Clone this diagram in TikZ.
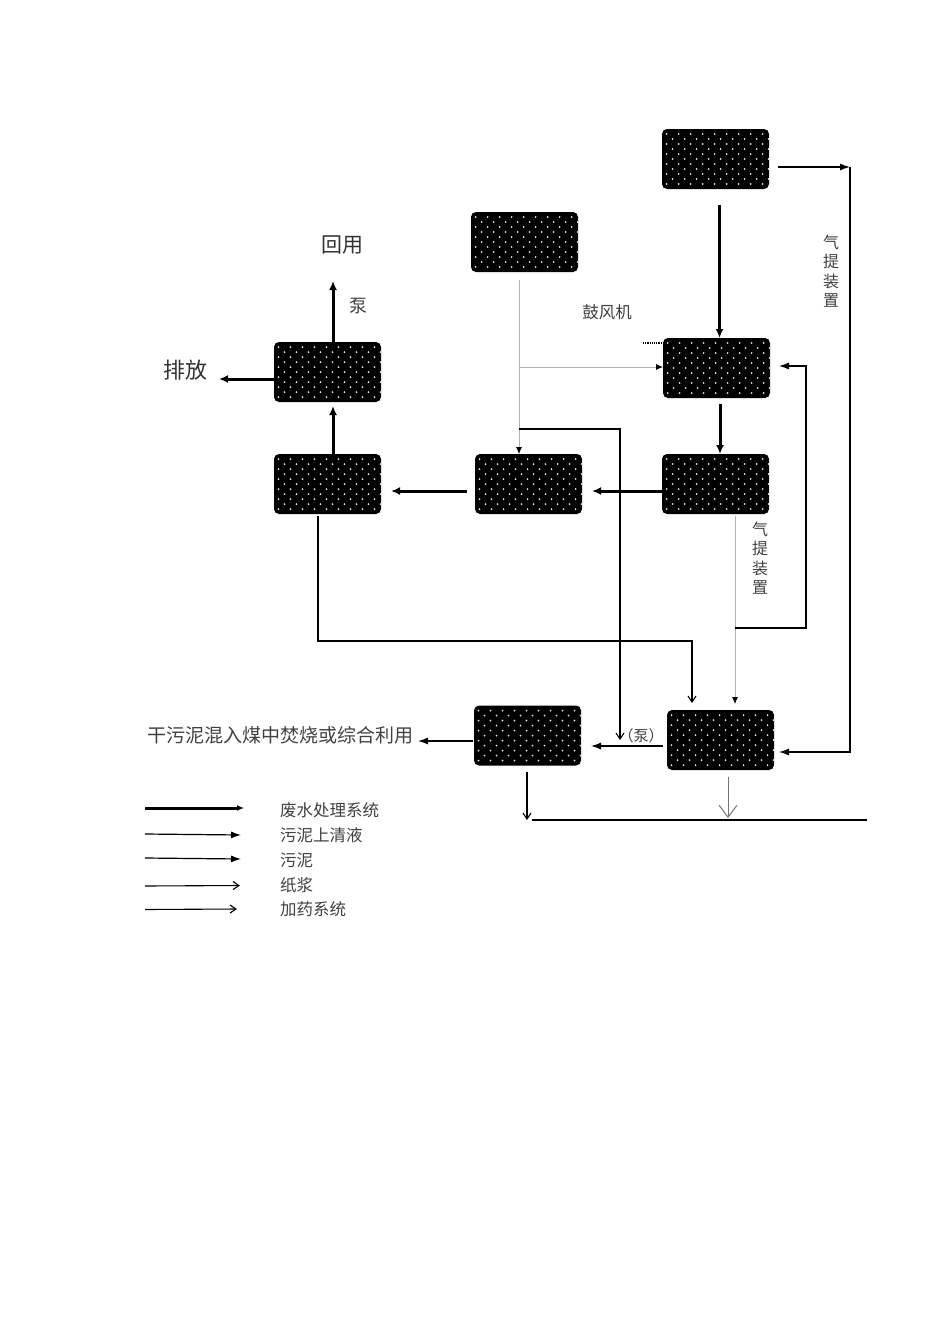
\documentclass[tikz,border=0pt]{standalone}
\usepackage{fontspec}
\setmainfont{Noto Sans CJK SC}
\usetikzlibrary{arrows.meta}
\begin{document}
\begin{tikzpicture}[x=1pt,y=-1pt,
  tank/.style={rectangle,fill=black,rounded corners=5pt,minimum width=107pt,minimum height=60pt,inner sep=0pt,outer sep=0pt,
    path picture={
      \foreach \row in {0,...,10}
        \foreach \col in {0,...,8}
          \fill[white!90!black] ([xshift={-49pt+12*\col*1pt+6*mod(\row,2)*1pt},yshift={25pt-5*\row*1pt}]path picture bounding box.center) circle (1pt);
    }},
  label/.style={inner sep=0pt,text=black!75,font=\fontsize{16.5}{20}\selectfont},
  biglabel/.style={inner sep=0pt,text=black!80,font=\fontsize{21}{24}\selectfont},
  vlabel/.style={inner sep=0pt,align=center,text=black!75,font=\fontsize{16}{19.5}\selectfont},
  water/.style={line width=3pt,-{Latex[length=9pt,width=8pt]}},
  sludge/.style={line width=1.2pt,-{Latex[length=10pt,width=7pt]}},
  plain/.style={line width=1.2pt},
  pale/.style={line width=0.8pt,draw=black!30},
  paletip/.style={-{Latex[length=7pt,width=6pt,black]}},
  pulp/.style={line width=1.1pt,-{Straight Barb[length=6pt,width=8pt]}},
  open/.style={line width=1pt,draw=black!55,-{Straight Barb[length=12pt,width=18pt,black!55]}}]

  \useasboundingbox (0,0) rectangle (950,1344);

  % tanks
  \node [tank] (raw) at (715.5,159) {};
  \node [tank] (dose) at (524.5,242) {};
  \node [tank] (aer) at (716.5,368) {};
  \node [tank] (sed) at (715.5,484) {};
  \node [tank] (mid) at (528.5,484) {};
  \node [tank] (filt) at (327.5,484) {};
  \node [tank] (pool) at (327.5,372) {};
  \node [tank] (thick) at (720.5,740) {};
  \node [tank] (press) at (527.5,735.5) {};

  % texts
  \node [biglabel] (reuse) at (342,245) {回用};
  \node [biglabel,font=\fontsize{22}{26}\selectfont] (drain) at (185,370) {排放};
  \node [label,font=\fontsize{18}{20}\selectfont] (pump) at (358,306) {泵};
  \node [label] (blower) at (607,312) {鼓风机};
  \node [vlabel] (stripa) at (831,271) {气\\提\\装\\置};
  \node [vlabel] (stripb) at (760,558) {气\\提\\装\\置};
  \node [label,font=\fontsize{15}{18}\selectfont] (pumpb) at (641,736) {（泵）};
  \node [label,font=\fontsize{19}{22}\selectfont] (burn) at (280,735) {干污泥混入煤中焚烧或综合利用};

  % connector ends
  \coordinate (rawa) at (778,167);
  \coordinate (rawb) at (850,167);
  \coordinate (rawc) at (850,752);
  \coordinate (rawd) at (779,752);
  \coordinate (rawe) at (719.5,205);
  \coordinate (aerin) at (719.5,338);
  \coordinate (dota) at (643,343);
  \coordinate (dotb) at (663,343);
  \coordinate (dosea) at (519,280);
  \coordinate (doseb) at (519,454);
  \coordinate (dosec) at (519,367);
  \coordinate (dosed) at (663,367);
  \coordinate (dosee) at (519,429);
  \coordinate (dosef) at (620,429);
  \coordinate (doseg) at (620,740);
  \coordinate (aera) at (720,404);
  \coordinate (sedin) at (720,454);
  \coordinate (seda) at (663,491);
  \coordinate (midin) at (592,491);
  \coordinate (mida) at (467,491);
  \coordinate (filtin) at (391,491);
  \coordinate (filta) at (333,454);
  \coordinate (poolin) at (333,406);
  \coordinate (poola) at (333,342);
  \coordinate (poolb) at (333,281);
  \coordinate (poolc) at (274,379);
  \coordinate (poold) at (219,379);
  \coordinate (filtb) at (318,516);
  \coordinate (filtc) at (318,641);
  \coordinate (filtd) at (692,641);
  \coordinate (filte) at (692,703);
  \coordinate (sedb) at (735,516);
  \coordinate (sedc) at (735,704);
  \coordinate (sedd) at (735,628);
  \coordinate (sede) at (806,628);
  \coordinate (sedf) at (806,366);
  \coordinate (sedg) at (779,366);
  \coordinate (thicka) at (663,746);
  \coordinate (thickb) at (591,746);
  \coordinate (pressa) at (473,741);
  \coordinate (pressb) at (418,741);
  \coordinate (pressc) at (527,772);
  \coordinate (pressd) at (527,820);
  \coordinate (thickc) at (728,777);
  \coordinate (thickd) at (728,818);
  \coordinate (basea) at (532,820);
  \coordinate (baseb) at (867,820);

  % connectors
  \draw [sludge] (rawa) -- (rawb);
  \draw [sludge] (rawb) -- (rawc) -- (rawd);
  \draw [water] (rawe) -- (aerin);
  \draw [line width=1.2pt,densely dotted] (dota) -- (dotb);
  \draw [pale,paletip] (dosea) -- (doseb);
  \draw [pale,paletip] (dosec) -- (dosed);
  \draw [pulp] (dosee) -- (dosef) -- (doseg);
  \draw [water] (aera) -- (sedin);
  \draw [water] (seda) -- (midin);
  \draw [water] (mida) -- (filtin);
  \draw [water] (filta) -- (poolin);
  \draw [water] (poola) -- (poolb);
  \draw [water] (poolc) -- (poold);
  \draw [pulp] (filtb) -- (filtc) -- (filtd) -- (filte);
  \draw [pale,paletip] (sedb) -- (sedc);
  \draw [sludge] (sedd) -- (sede) -- (sedf) -- (sedg);
  \draw [sludge] (thicka) -- (thickb);
  \draw [sludge] (pressa) -- (pressb);
  \draw [pulp] (pressc) -- (pressd);
  \draw [open] (thickc) -- (thickd);
  \draw [plain] (basea) -- (baseb);

  % legend
  \node [label,anchor=west] (keya) at (280,810) {废水处理系统};
  \node [label,anchor=west] (keyb) at (280,835) {污泥上清液};
  \node [label,anchor=west] (keyc) at (280,860) {污泥};
  \node [label,anchor=west] (keyd) at (280,885) {纸浆};
  \node [label,anchor=west] (keye) at (280,909) {加药系统};
  \coordinate (keyaa) at (145,808);
  \coordinate (keyab) at (244,808);
  \coordinate (keyba) at (145,834);
  \coordinate (keybb) at (241,835);
  \coordinate (keyca) at (145,858);
  \coordinate (keycb) at (241,859);
  \coordinate (keyda) at (145,886);
  \coordinate (keydb) at (240,885.5);
  \coordinate (keyea) at (145,909.5);
  \coordinate (keyeb) at (237,909);
  \draw [water,-{Latex[length=7pt,width=6pt]}] (keyaa) -- (keyab);
  \draw [sludge] (keyba) -- (keybb);
  \draw [sludge] (keyca) -- (keycb);
  \draw [pulp] (keyda) -- (keydb);
  \draw [pulp] (keyea) -- (keyeb);
\end{tikzpicture}
\end{document}
